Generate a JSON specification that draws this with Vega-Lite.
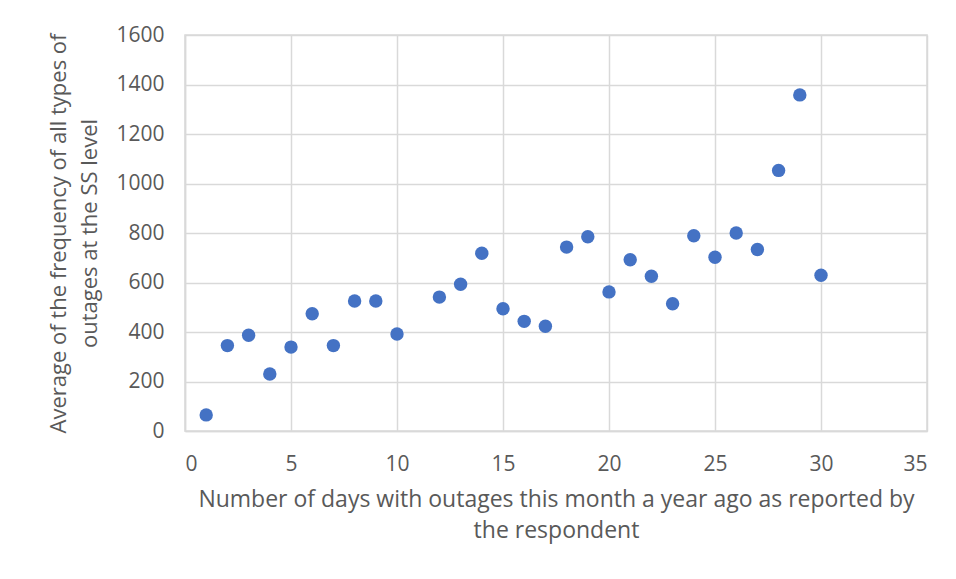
{
  "$schema": "https://vega.github.io/schema/vega-lite/v6.json",
  "width": 742,
  "height": 396,
  "autosize": "none",
  "padding": {"left": 185, "top": 35, "right": 29, "bottom": 148},
  "background": "white",
  "config": {
    "view": {"stroke": "#d9d9d9", "strokeWidth": 1.5},
    "axis": {
      "labelFont": "Open Sans",
      "titleFont": "Open Sans",
      "labelColor": "#595959",
      "titleColor": "#595959",
      "labelFontSize": 21,
      "titleFontSize": 22,
      "titleFontWeight": "normal",
      "gridColor": "#d9d9d9",
      "gridWidth": 1.5,
      "domainColor": "#d9d9d9",
      "domainWidth": 1.5,
      "ticks": false
    }
  },
  "data": {
    "values": [
      {"days": 1, "avg": 65},
      {"days": 2, "avg": 345},
      {"days": 3, "avg": 387},
      {"days": 4, "avg": 230},
      {"days": 5, "avg": 339},
      {"days": 6, "avg": 474},
      {"days": 7, "avg": 345},
      {"days": 8, "avg": 525},
      {"days": 9, "avg": 525},
      {"days": 10, "avg": 392},
      {"days": 12, "avg": 541},
      {"days": 13, "avg": 593},
      {"days": 14, "avg": 718},
      {"days": 15, "avg": 494},
      {"days": 16, "avg": 443},
      {"days": 17, "avg": 423},
      {"days": 18, "avg": 743},
      {"days": 19, "avg": 785},
      {"days": 20, "avg": 562},
      {"days": 21, "avg": 692},
      {"days": 22, "avg": 625},
      {"days": 23, "avg": 514},
      {"days": 24, "avg": 789},
      {"days": 25, "avg": 702},
      {"days": 26, "avg": 800},
      {"days": 27, "avg": 733},
      {"days": 28, "avg": 1053},
      {"days": 29, "avg": 1358},
      {"days": 30, "avg": 629}
    ]
  },
  "mark": {"type": "circle", "size": 180, "color": "#4472C4", "opacity": 1},
  "encoding": {
    "x": {
      "field": "days",
      "type": "quantitative",
      "scale": {"domain": [0, 35], "nice": false},
      "axis": {
        "values": [0, 5, 10, 15, 20, 25, 30, 35],
        "format": "d",
        "labelPadding": 22,
        "title": ["Number of days with outages this month a year ago as reported by", "the respondent"],
        "titleFontSize": 23,
        "titlePadding": 14,
        "titleLineHeight": 31
      }
    },
    "y": {
      "field": "avg",
      "type": "quantitative",
      "scale": {"domain": [0, 1600], "nice": false},
      "axis": {
        "values": [0, 200, 400, 600, 800, 1000, 1200, 1400, 1600],
        "format": "d",
        "labelPadding": 21,
        "title": ["Average of the frequency of all types of", "outages at the SS level"],
        "titlePadding": 14,
        "titleLineHeight": 31
      }
    }
  }
}
